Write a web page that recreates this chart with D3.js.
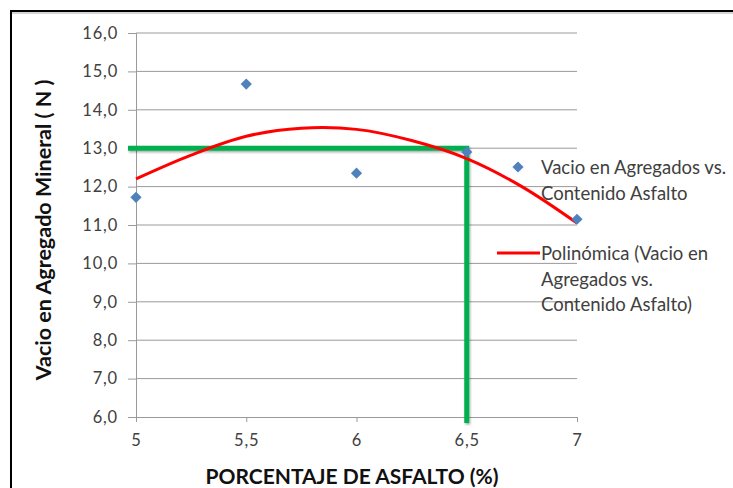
<!DOCTYPE html>
<html>
<head>
<meta charset="utf-8">
<script src="https://cdn.jsdelivr.net/npm/d3@7"></script>
<style>
  body { margin: 0; background: #fff; }
  svg { display: block; font-family: Lato, "Open Sans", sans-serif; }
</style>
</head>
<body>
<div id="chart"></div>
<script>
// data
const asphalt = [5, 5.5, 6, 6.5, 7];
const voids = [11.72, 14.67, 12.35, 12.9, 11.15];
// polynomial trendline, sampled from the drawn curve
const trendX = [5, 5.25, 5.5, 5.75, 6, 6.25, 6.5, 6.75, 7];
const trendY = [12.2, 12.82, 13.31, 13.52, 13.49, 13.2, 12.73, 12.0, 11.05];
// design reading (green guide lines)
const designX = 6.5;
const designY = 13.0;
const yTicks = [6, 7, 8, 9, 10, 11, 12, 13, 14, 15, 16];
const xTicks = [5, 5.5, 6, 6.5, 7];
const legendLabels = [
    ["Vacio en Agregados vs.", "Contenido Asfalto"],
    ["Polinómica (Vacio en", "Agregados vs.", "Contenido Asfalto)"]
];

const width = 733, height = 488;
const margin = {top: 33, right: 156, bottom: 71, left: 136};

const svg = d3.select("#chart").append("svg")
    .attr("width", width)
    .attr("height", height);

// chart frame (runs off the right and bottom edges)
svg.append("rect")
    .attr("x", 11).attr("y", 11)
    .attr("width", width + 20).attr("height", height + 20)
    .attr("fill", "none")
    .attr("stroke", "#000")
    .attr("stroke-width", 2);
svg.append("line")
    .attr("x1", 12).attr("x2", width)
    .attr("y1", 13).attr("y2", 13)
    .attr("stroke", "#aaa").attr("stroke-width", 1);

const x = d3.scaleLinear().domain([5, 7]).range([margin.left, width - margin.right]);
const y = d3.scaleLinear().domain([6, 16]).range([height - margin.bottom, margin.top]);

// gridlines
svg.append("g")
    .selectAll("line")
    .data(yTicks.slice(1))
    .join("line")
    .attr("x1", x(5)).attr("x2", x(7))
    .attr("y1", d => y(d)).attr("y2", d => y(d))
    .attr("stroke", "#9a9a9a")
    .attr("stroke-width", 1);

// y axis
const yAxis = svg.append("g")
    .attr("transform", `translate(${x(5)},0)`)
    .call(d3.axisLeft(y).tickValues(yTicks).tickSize(8).tickPadding(10)
        .tickFormat(d => d3.format(".1f")(d).replace(".", ",")));
// x axis
const xAxis = svg.append("g")
    .attr("transform", `translate(0,${y(6)})`)
    .call(d3.axisBottom(x).tickValues(xTicks).tickSize(5).tickPadding(9)
        .tickFormat(d => String(d).replace(".", ",")));

[yAxis, xAxis].forEach(a => {
    a.select(".domain").attr("stroke", "#9a9a9a");
    a.selectAll(".tick line").attr("stroke", "#9a9a9a");
    a.selectAll("text")
        .attr("fill", "#404040")
        .style("font-size", "16.5px")
        .style("letter-spacing", "0.8px")
        .style("font-family", "Lato, sans-serif");
});
xAxis.selectAll("text").attr("dy", "0.9em");

// axis titles
svg.append("text")
    .attr("transform", `translate(51,230) rotate(-90)`)
    .attr("text-anchor", "middle")
    .attr("font-size", 21.5)
    .attr("font-weight", "bold")
    .attr("fill", "#111")
    .text("Vacio en Agregado Mineral ( N )");

svg.append("text")
    .attr("x", 352)
    .attr("y", 484)
    .attr("text-anchor", "middle")
    .attr("font-size", 21)
    .attr("font-weight", "bold")
    .attr("fill", "#111")
    .text("PORCENTAJE DE ASFALTO (%)");

// green guide lines
const shadow = svg.append("defs").append("filter")
    .attr("id", "shadow").attr("x", "-20%").attr("y", "-50%")
    .attr("width", "140%").attr("height", "200%");
shadow.append("feDropShadow")
    .attr("dx", 1).attr("dy", 1.5).attr("stdDeviation", 1.2)
    .attr("flood-color", "#000").attr("flood-opacity", 0.35);

const guide = svg.append("g").attr("filter", "url(#shadow)");
guide.append("path")
    .attr("d", d3.line()([
        [x(5) - 8, y(designY)],
        [x(designX), y(designY)],
        [x(designX), y(6) + 6]
    ]))
    .attr("fill", "none")
    .attr("stroke", "#00b050")
    .attr("stroke-width", 5)
    .attr("stroke-linejoin", "miter");

// trendline
svg.append("path")
    .datum(trendX.map((d, i) => [d, trendY[i]]))
    .attr("d", d3.line().x(d => x(d[0])).y(d => y(d[1])).curve(d3.curveCatmullRom))
    .attr("fill", "none")
    .attr("stroke", "#ff0000")
    .attr("stroke-width", 3);

// markers
const diamond = d3.symbol().type(d3.symbolDiamond2).size(80);
svg.append("g")
    .selectAll("path")
    .data(asphalt.map((d, i) => [d, voids[i]]))
    .join("path")
    .attr("transform", d => `translate(${x(d[0])},${y(d[1])})`)
    .attr("d", diamond)
    .attr("fill", "#4f81bd");

// legend
const legend = svg.append("g").attr("font-size", 18.5).attr("fill", "#404040");
legend.append("path")
    .attr("transform", "translate(518,167)")
    .attr("d", diamond)
    .attr("fill", "#4f81bd");
legend.append("line")
    .attr("x1", 497).attr("x2", 540)
    .attr("y1", 253).attr("y2", 253)
    .attr("stroke", "#ff0000")
    .attr("stroke-width", 3);

const legendTops = [167, 253];
legendLabels.forEach((lines, k) => {
    legend.append("text")
        .attr("x", 541)
        .attr("y", legendTops[k] + 7)
        .selectAll("tspan")
        .data(lines)
        .join("tspan")
        .attr("x", 541)
        .attr("dy", (d, i) => i === 0 ? 0 : 25.5)
        .text(d => d);
});
</script>
</body>
</html>
